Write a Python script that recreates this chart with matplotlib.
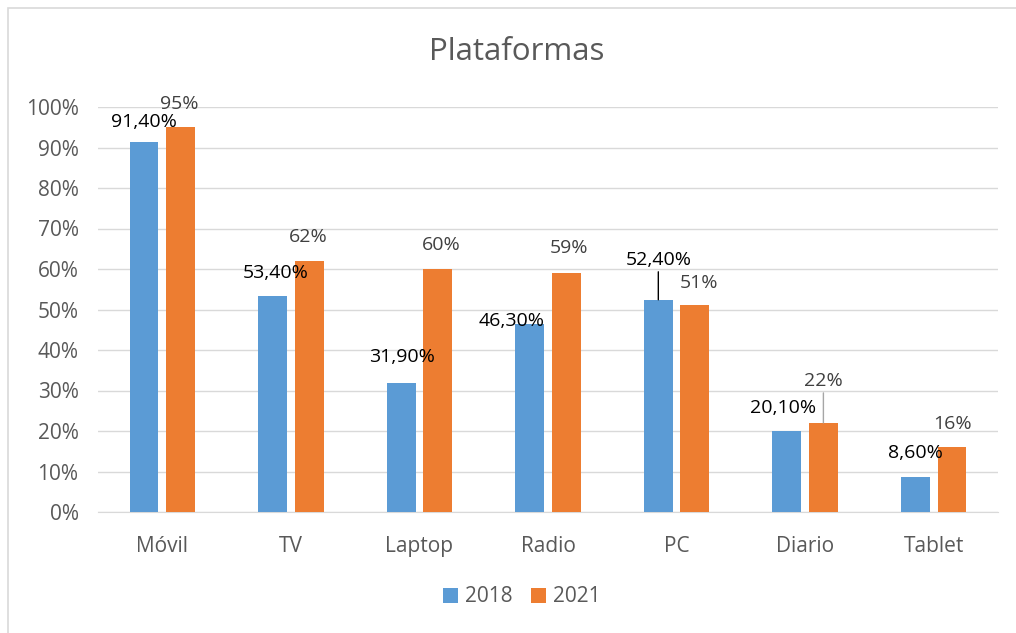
import matplotlib
matplotlib.use("Agg")
import matplotlib.pyplot as plt
import numpy as np
from matplotlib.patches import Rectangle
from matplotlib.ticker import FuncFormatter

plt.rcParams["font.family"] = ["Open Sans", "DejaVu Sans"]

categories = ["Móvil", "TV", "Laptop", "Radio", "PC", "Diario", "Tablet"]
values_2018 = [91.4, 53.4, 31.9, 46.3, 52.4, 20.1, 8.6]
values_2021 = [95, 62, 60, 59, 51, 22, 16]
labels_2018 = ["91,40%", "53,40%", "31,90%", "46,30%", "52,40%", "20,10%", "8,60%"]
labels_2021 = ["95%", "62%", "60%", "59%", "51%", "22%", "16%"]

# label offsets in pixels (dx, dy) relative to bar top centre, as in the Excel chart
off_2018 = [(0, 20), (3, 23), (1, 26), (-18, 3), (0, 40), (-4, 23), (0, 24)]
off_2021 = [(-1, 23), (-1, 24), (4, 24), (3, 25), (4, 22), (0, 42), (1, 23)]
leader_2018 = [False, False, False, False, True, False, False]
leader_2021 = [False, False, False, False, False, True, False]

BLUE = "#5B9BD5"
ORANGE = "#ED7D31"
GRAY = "#595959"

fig = plt.figure(figsize=(10.16, 6.33), dpi=100)
ax = fig.add_axes([98 / 1016, 1 - 512 / 633, 900 / 1016, 405 / 633])

x = np.arange(len(categories))
w = 0.225
off = 0.142
b1 = ax.bar(x - off, values_2018, w, color=BLUE, label="2018", zorder=3)
b2 = ax.bar(x + off, values_2021, w, color=ORANGE, label="2021", zorder=3)

px = 72 / fig.dpi  # points per pixel
for i in range(len(categories)):
    for val, lab, (dx, dy), lead, xc, col in [
        (values_2018[i], labels_2018[i], off_2018[i], leader_2018[i], x[i] - off, "black"),
        (values_2021[i], labels_2021[i], off_2021[i], leader_2021[i], x[i] + off, "#404040"),
    ]:
        ax.annotate(lab, (xc, val), xytext=(dx * px, dy * px), textcoords="offset points",
                    ha="center", va="center", fontsize=14, color=col, zorder=5)
        if lead:
            ax.annotate("", (xc, val), xytext=(0, (dy - 12) * px), textcoords="offset points",
                        arrowprops=dict(arrowstyle="-", color="black" if col == "black" else "#a6a6a6",
                                        lw=1, shrinkA=0, shrinkB=0), zorder=4)

ax.set_xlim(-0.5, len(categories) - 0.5)
ax.set_ylim(0, 100)
ax.set_yticks(np.arange(0, 101, 10))
ax.yaxis.set_major_formatter(FuncFormatter(lambda v, p: f"{int(v)}%"))
ax.set_xticks(x)
ax.set_xticklabels(categories)
ax.tick_params(axis="both", length=0, labelsize=15, colors=GRAY)
ax.tick_params(axis="y", pad=14)
ax.tick_params(axis="x", pad=17)
ax.grid(axis="y", color="#d9d9d9", lw=1, zorder=0)
for s in ["top", "right", "left"]:
    ax.spines[s].set_visible(False)
ax.spines["bottom"].set_color("#d9d9d9")

fig.text(517 / 1016, 1 - 52 / 633, "Plataformas", ha="center", va="center",
         fontsize=22.5, color=GRAY)

ax.legend(loc="center", bbox_to_anchor=(522 / 1016, 1 - 597 / 633), bbox_transform=fig.transFigure,
          ncol=2, frameon=False, fontsize=15, handlelength=0.7, handleheight=0.7,
          handletextpad=0.35, columnspacing=0.9, labelcolor=GRAY)

# chart border (left and top visible)
fig.patches.append(Rectangle((7.5 / 1016, -0.1), 1.2, 1 - 8.5 / 633 + 0.1, transform=fig.transFigure,
                             fill=False, edgecolor="#d9d9d9", lw=1.2))

fig.savefig("out.png", dpi=100)
